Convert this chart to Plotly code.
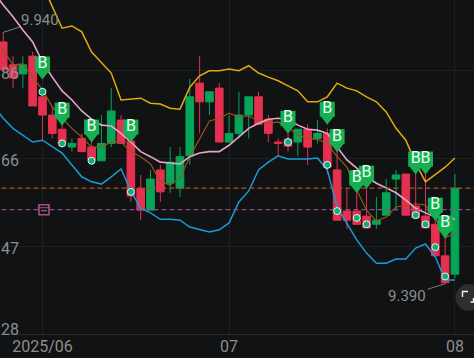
import plotly.graph_objects as go

BG = "#101214"
GRID = "#1e2022"
TXT = "#8c8d8e"
RED = "#e5304f"
GREEN = "#06a557"

opens = [9.919,9.869,9.849,9.888,9.799,9.759,9.728,9.689,9.708,9.689,9.659,9.697,9.748,9.702,9.599,9.551,9.639,9.610,9.599,9.670,9.829,9.788,9.818,9.700,9.719,9.759,9.799,9.750,9.700,9.706,9.700,9.728,9.708,9.719,9.639,9.549,9.549,9.538,9.520,9.540,9.619,9.630,9.560,9.538,9.520,9.451,9.411]
highs = [9.940,9.888,9.888,9.897,9.818,9.779,9.755,9.708,9.719,9.708,9.759,9.818,9.759,9.708,9.628,9.639,9.650,9.689,9.689,9.838,9.888,9.810,9.829,9.759,9.810,9.799,9.810,9.759,9.708,9.719,9.728,9.739,9.748,9.730,9.683,9.599,9.589,9.604,9.580,9.619,9.639,9.630,9.634,9.634,9.545,9.501,9.630]
lows = [9.854,9.818,9.818,9.779,9.704,9.708,9.691,9.679,9.679,9.650,9.659,9.689,9.697,9.569,9.529,9.551,9.569,9.589,9.580,9.650,9.719,9.759,9.700,9.700,9.708,9.708,9.739,9.700,9.670,9.679,9.670,9.650,9.697,9.630,9.529,9.510,9.520,9.512,9.510,9.540,9.549,9.540,9.534,9.512,9.451,9.390,9.402]
closes = [9.858,9.840,9.869,9.779,9.759,9.719,9.697,9.697,9.679,9.661,9.697,9.768,9.697,9.582,9.551,9.619,9.591,9.656,9.668,9.799,9.788,9.810,9.700,9.719,9.759,9.799,9.739,9.719,9.697,9.691,9.728,9.689,9.719,9.645,9.529,9.529,9.520,9.512,9.529,9.589,9.628,9.540,9.534,9.512,9.451,9.392,9.599]

upper_x = list(range(4, 47))
upper = [10.044,9.998,9.949,9.954,9.941,9.897,9.875,9.851,9.792,9.794,9.796,9.785,9.783,9.774,9.772,9.820,9.845,9.856,9.856,9.860,9.856,9.867,9.851,9.842,9.834,9.823,9.812,9.788,9.788,9.799,9.829,9.818,9.812,9.799,9.788,9.766,9.730,9.704,9.654,9.613,9.628,9.645,9.665]
line_x = list(range(-1, 47))
middle = [10.029,10.000,9.974,9.945,9.919,9.875,9.842,9.812,9.792,9.768,9.750,9.737,9.735,9.719,9.700,9.679,9.668,9.656,9.654,9.652,9.668,9.676,9.679,9.679,9.693,9.711,9.730,9.741,9.750,9.752,9.750,9.737,9.728,9.726,9.719,9.689,9.661,9.643,9.624,9.610,9.599,9.589,9.573,9.555,9.545,9.536,9.534,9.531]
lower = [9.781,9.752,9.730,9.715,9.700,9.704,9.689,9.676,9.650,9.624,9.613,9.608,9.624,9.641,9.593,9.555,9.545,9.531,9.531,9.529,9.514,9.508,9.503,9.508,9.523,9.569,9.593,9.639,9.656,9.670,9.663,9.663,9.663,9.665,9.639,9.558,9.523,9.486,9.457,9.435,9.435,9.444,9.444,9.468,9.477,9.449,9.398,9.398]
ma = [9.923,9.901,9.869,9.871,9.842,9.814,9.777,9.752,9.730,9.711,9.689,9.689,9.700,9.700,9.679,9.668,9.652,9.613,9.606,9.621,9.668,9.708,9.746,9.752,9.763,9.755,9.757,9.746,9.741,9.744,9.733,9.715,9.708,9.706,9.697,9.668,9.645,9.595,9.551,9.527,9.536,9.558,9.562,9.565,9.562,9.534,9.490,9.501]

dot_x = [4,6,9,13,29,33,34,36,37,42,43,44,45]
dot_y = [9.810,9.697,9.659,9.591,9.700,9.650,9.549,9.534,9.520,9.540,9.520,9.470,9.406]
buy_x = [4,6,9,13,29,33,34,36,37,42,43,44,45]
buy_tip = [9.838,9.737,9.700,9.700,9.719,9.739,9.679,9.589,9.599,9.630,9.630,9.529,9.490]

level_orange = 9.599
level_pink = 9.552
x_ticks = [4, 23, 46]
x_labels = ["2025/06", "07", "08"]
y_ticks = [9.2800, 9.4725, 9.6650, 9.8575]
y_labels = ["28", "47", "66", "86"]
y_label_shift = [5, -2, -2, -3]

xs = list(range(len(opens)))
PX = 0.002188
FONT = "Roboto"

fig = go.Figure()
fig.add_trace(go.Candlestick(
    x=xs, open=opens, high=highs, low=lows, close=closes,
    increasing=dict(line=dict(color=GREEN, width=1), fillcolor=GREEN),
    decreasing=dict(line=dict(color=RED, width=1), fillcolor=RED),
    whiskerwidth=0, hoverinfo="skip"))
for nm, xx, yy, col, w in [
    ("MA", line_x, ma, "#96561c", 1.2),
    ("Upper", upper_x, upper, "#e3aa0a", 1.5),
    ("Middle", line_x, middle, "#e8a5c5", 1.6),
    ("Lower", line_x, lower, "#1b9ad8", 1.5)]:
    fig.add_trace(go.Scatter(x=xx, y=yy, mode="lines", name=nm,
                             line=dict(color=col, width=w), hoverinfo="skip"))
x_full = [-1, 48]
fig.add_trace(go.Scatter(x=x_full, y=[level_orange]*2, mode="lines", hoverinfo="skip",
                         line=dict(color="#a8541a", width=1.3, dash="5px,3px")))
fig.add_trace(go.Scatter(x=x_full, y=[level_pink]*2, mode="lines", hoverinfo="skip",
                         line=dict(color="#8c4e80", width=1.3, dash="5px,3px")))
fig.add_trace(go.Scatter(x=[4.15], y=[level_pink], mode="markers", hoverinfo="skip",
                         marker=dict(symbol="square", size=10, color=BG,
                                     line=dict(color="#a4508c", width=1.6))))
fig.add_trace(go.Scatter(x=[4.15], y=[level_pink + 2*PX], mode="markers", hoverinfo="skip",
                         marker=dict(symbol="line-ew", size=9,
                                     line=dict(color="#a4508c", width=1))))
fig.add_trace(go.Scatter(x=[4.15], y=[level_pink - 1*PX], mode="markers", hoverinfo="skip",
                         marker=dict(symbol="line-ew", size=4,
                                     line=dict(color="#a4508c", width=1.4))))
fig.add_trace(go.Scatter(x=buy_x, y=[t + 6*PX for t in buy_tip], mode="markers", hoverinfo="skip",
                         marker=dict(symbol="triangle-down", size=13, color="#16b053")))
fig.add_trace(go.Scatter(x=buy_x, y=[t + 15*PX for t in buy_tip], mode="markers+text", hoverinfo="skip",
                         text=["B"]*len(buy_x), textposition="middle center",
                         textfont=dict(family=FONT, size=16, color="#eafff0"),
                         marker=dict(symbol="square", size=15, color="#16b053")))
fig.add_trace(go.Scatter(x=dot_x, y=dot_y, mode="markers", hoverinfo="skip",
                         marker=dict(symbol="circle", size=7, color="#0fae78",
                                     line=dict(color="#e6f7f0", width=1))))

annots = []
for v, t, s in zip(y_ticks, y_labels, y_label_shift):
    annots.append(dict(xref="paper", x=0, y=v, yref="y", xanchor="left", yanchor="middle",
                       text=t, showarrow=False, yshift=s, xshift=-1,
                       font=dict(family=FONT, size=16, color=TXT)))
annots.append(dict(x=0, y=highs[0], text="9.940", showarrow=True, arrowhead=0, arrowwidth=0.8,
                   arrowcolor="#9a9a9a", ax=37, ay=-12, font=dict(family=FONT, size=15, color=TXT)))
annots.append(dict(x=45, y=lows[45], text="9.390", showarrow=True, arrowhead=0, arrowwidth=0.8,
                   arrowcolor="#9a9a9a", ax=-38, ay=12, font=dict(family=FONT, size=15, color=TXT)))

W, H = 474, 358
PLOT_H = 334
def px(x): return x / W
def py(y): return 1 - y / PLOT_H
shapes = [
    dict(type="circle", xref="paper", yref="paper", layer="above", x0=px(455.5), x1=px(482.5),
         y0=py(311), y1=py(284), fillcolor="#2c2e30", line=dict(width=0)),
    dict(type="path", xref="paper", yref="paper", layer="above",
         path=f"M{px(462.5)},{py(297)} L{px(462.5)},{py(291.5)} L{px(468)},{py(291.5)}",
         line=dict(color="#f2f2f2", width=1.4)),
    dict(type="path", xref="paper", yref="paper", layer="above",
         path=f"M{px(470.5)},{py(302)} L{px(473.5)},{py(302)} L{px(473.5)},{py(298)}",
         line=dict(color="#f2f2f2", width=1.4)),
]

fig.update_layout(
    width=W, height=H, autosize=False,
    margin=dict(l=0, r=0, t=0, b=24),
    paper_bgcolor=BG, plot_bgcolor=BG, showlegend=False, boxgap=0.22, boxgroupgap=0,
    annotations=annots, shapes=shapes,
    xaxis=dict(range=[-0.326, 47.94], rangeslider=dict(visible=False), tickmode="array",
               tickvals=x_ticks, ticktext=x_labels, showgrid=True, gridcolor=GRID, gridwidth=1,
               zeroline=False, showline=True, linecolor="#26282a", linewidth=1, ticks="",
               ticklabelstandoff=-2,
               tickfont=dict(family=FONT, size=16, color=TXT)),
    yaxis=dict(range=[9.28, 10.0108], tickmode="array", tickvals=y_ticks, showticklabels=False,
               showgrid=True, gridcolor=GRID, gridwidth=1, zeroline=False, showline=False, ticks=""),
)
fig.write_html("out.html", config=dict(displayModeBar=False),
               post_script="document.body.style.margin='0';document.body.style.background='#101214';document.body.style.overflow='hidden';")
